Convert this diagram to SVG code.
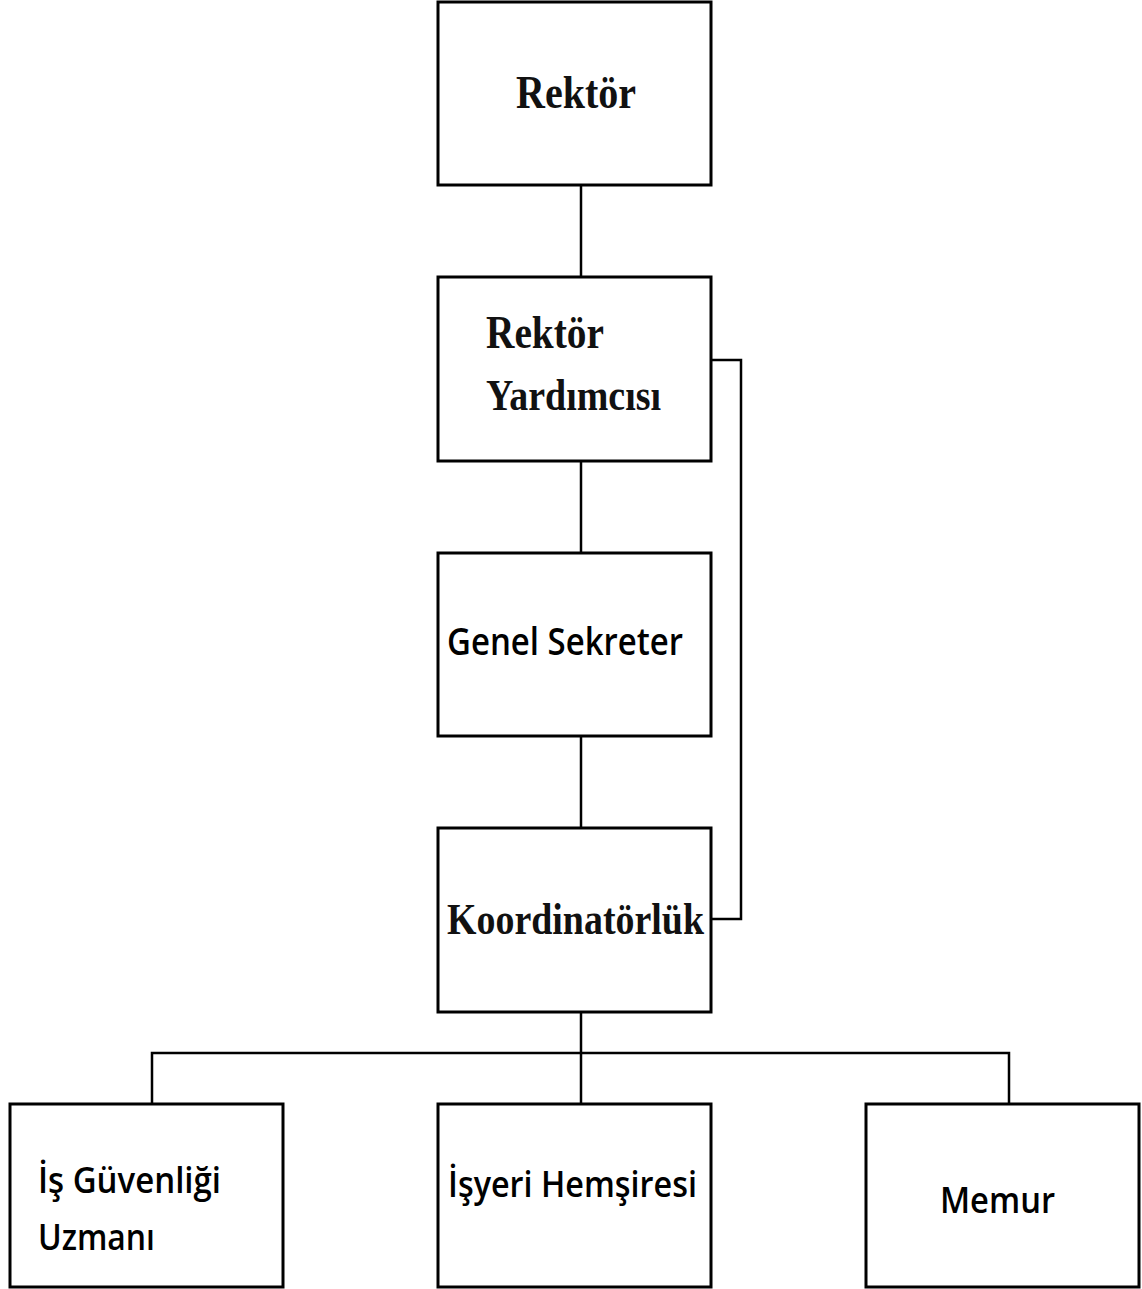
<svg xmlns="http://www.w3.org/2000/svg" width="1142" height="1289" viewBox="0 0 1142 1289">
<style>
.box{fill:#fff;stroke:#000;stroke-width:3}
.ln{fill:none;stroke:#000;stroke-width:2.5}
.serif{font-family:"Liberation Serif","Times New Roman",serif;font-weight:bold;fill:#111}
.sans{font-family:"Open Sans","Noto Sans","Liberation Sans",sans-serif;font-weight:600;fill:#000}
</style>
<rect width="1142" height="1289" fill="#fff"/>
<g id="connectors">
<line class="ln" x1="581" y1="185" x2="581" y2="277"/>
<line class="ln" x1="581" y1="461" x2="581" y2="553"/>
<line class="ln" x1="581" y1="736" x2="581" y2="828"/>
<line class="ln" x1="581" y1="1012" x2="581" y2="1104"/>
<polyline class="ln" points="152,1104 152,1053 1009,1053 1009,1104"/>
<polyline class="ln" points="711,360 741,360 741,919 711,919"/>
</g>
<g id="rektor">
<rect class="box" x="438" y="2" width="273" height="183"/>
<text class="serif" x="516" y="108" font-size="40" textLength="120" lengthAdjust="spacingAndGlyphs" transform="translate(0,108) scale(1,1.15) translate(0,-108)">Rektör</text>
</g>
<g id="rektor-yardimcisi">
<rect class="box" x="438" y="277" width="273" height="184"/>
<text class="serif" x="486" y="348" font-size="40" textLength="118" lengthAdjust="spacingAndGlyphs" transform="translate(0,348) scale(1,1.15) translate(0,-348)">Rektör</text>
<text class="serif" x="486" y="410" font-size="38" textLength="175" lengthAdjust="spacingAndGlyphs" transform="translate(0,410) scale(1,1.15) translate(0,-410)">Yardımcısı</text>
</g>
<g id="genel-sekreter">
<rect class="box" x="438" y="553" width="273" height="183"/>
<text class="sans" x="447" y="655" font-size="38" textLength="236" lengthAdjust="spacingAndGlyphs">Genel Sekreter</text>
</g>
<g id="koordinatorluk">
<rect class="box" x="438" y="828" width="273" height="184"/>
<text class="serif" x="447" y="934" font-size="38" textLength="257" lengthAdjust="spacingAndGlyphs" transform="translate(0,934) scale(1,1.15) translate(0,-934)">Koordinatörlük</text>
</g>
<g id="is-guvenligi-uzmani">
<rect class="box" x="10" y="1104" width="273" height="183"/>
<text class="sans" x="38" y="1193" font-size="36" textLength="183" lengthAdjust="spacingAndGlyphs">İş Güvenliği</text>
<text class="sans" x="38" y="1250" font-size="36" textLength="117" lengthAdjust="spacingAndGlyphs">Uzmanı</text>
</g>
<g id="isyeri-hemsiresi">
<rect class="box" x="438" y="1104" width="273" height="183"/>
<text class="sans" x="448" y="1197" font-size="36" textLength="249" lengthAdjust="spacingAndGlyphs">İşyeri Hemşiresi</text>
</g>
<g id="memur">
<rect class="box" x="866" y="1104" width="273" height="183"/>
<text class="sans" x="940" y="1213" font-size="36" textLength="115" lengthAdjust="spacingAndGlyphs">Memur</text>
</g>
</svg>
